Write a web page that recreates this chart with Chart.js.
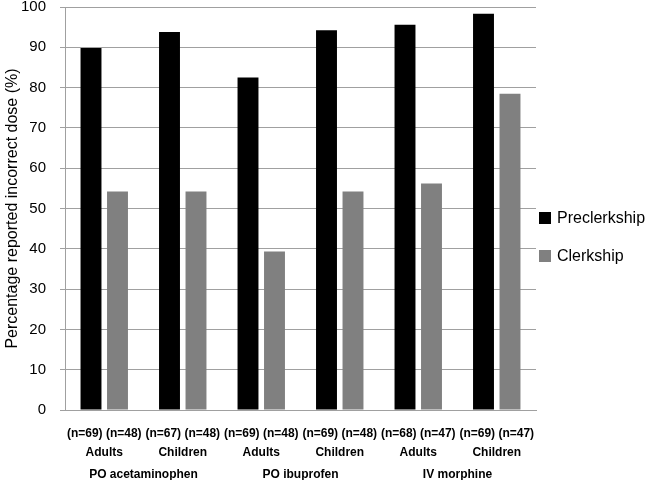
<!DOCTYPE html>
<html>
<head>
<meta charset="utf-8">
<script src="https://cdn.jsdelivr.net/npm/chart.js@4.4.1/dist/chart.umd.min.js"></script>
<style>
    html, body { margin: 0; padding: 0; background: #fff; }
    #wrap { width: 647px; height: 480px; position: relative; }
</style>
</head>
<body>
<div id="wrap"><canvas id="doseChart"></canvas></div>
<script>
// bar categories: sample sizes + population
var sampleLabels = ['(n=69) (n=48)', '(n=67) (n=48)', '(n=69) (n=48)', '(n=69) (n=48)', '(n=68) (n=47)', '(n=69) (n=47)'];
var populations = ['Adults', 'Children', 'Adults', 'Children', 'Adults', 'Children'];
var drugGroups = ['PO acetaminophen', 'PO ibuprofen', 'IV morphine'];

var preclerkship = [89.8, 93.8, 82.5, 94.2, 95.6, 98.3];
var clerkship = [54.2, 54.2, 39.3, 54.2, 56.2, 78.5];

document.addEventListener('DOMContentLoaded', function() {
    Chart.defaults.font.family = '"Liberation Sans", Arial, sans-serif';
    Chart.defaults.color = '#000';

    var labels = sampleLabels.map(function(s, i) { return [s, populations[i]]; });

    // legend drawn by hand to the right of the plot (tight box/text spacing)
    var sideLegend = {
        id: 'sideLegend',
        afterDraw: function(chart) {
            var c = chart.ctx;
            var area = chart.chartArea;
            var x = area.right + 3;
            var rows = [218, 256];
            c.save();
            c.font = '16px "Liberation Sans", Arial, sans-serif';
            c.textBaseline = 'middle';
            c.textAlign = 'left';
            chart.data.datasets.forEach(function(ds, i) {
                c.fillStyle = ds.backgroundColor;
                c.fillRect(x, rows[i] - 6, 12, 12);
                c.fillStyle = '#000';
                c.fillText(ds.label, x + 18, rows[i] + 1);
            });
            c.restore();
        }
    };

    var ctx = document.getElementById('doseChart').getContext('2d');
    var chart = new Chart(ctx, {
        type: 'bar',
        data: {
            labels: labels,
            datasets: [
                {
                    label: 'Preclerkship',
                    data: preclerkship,
                    backgroundColor: '#000000',
                    categoryPercentage: 0.675,
                    barPercentage: 0.79
                },
                {
                    label: 'Clerkship',
                    data: clerkship,
                    backgroundColor: '#808080',
                    categoryPercentage: 0.675,
                    barPercentage: 0.79
                }
            ]
        },
        plugins: [sideLegend],
        options: {
            responsive: true,
            maintainAspectRatio: false,
            animation: false,
            layout: { padding: { top: 0, right: 111, bottom: 0, left: 0 } },
            plugins: {
                legend: { display: false },
                tooltip: { enabled: false }
            },
            scales: {
                x: {
                    afterFit: function(scale) {
                        scale.height = 52;
                        scale.paddingLeft = 0;
                        scale.paddingRight = 0;
                    },
                    grid: { display: false, drawTicks: false },
                    border: { display: true, color: '#a0a0a0' },
                    ticks: {
                        maxRotation: 0,
                        autoSkip: false,
                        font: { size: 12, weight: 'bold', lineHeight: 1.583 },
                        color: '#000',
                        padding: 14
                    }
                },
                x2: {
                    type: 'category',
                    position: 'bottom',
                    labels: drugGroups,
                    offset: true,
                    afterFit: function(scale) {
                        scale.height = 18;
                        scale.paddingLeft = 0;
                        scale.paddingRight = 0;
                    },
                    grid: { display: false, drawTicks: false },
                    border: { display: false },
                    ticks: {
                        maxRotation: 0,
                        font: { size: 12, weight: 'bold', lineHeight: 1.2 },
                        color: '#000',
                        padding: 5
                    }
                },
                y: {
                    min: 0,
                    max: 100,
                    afterFit: function(scale) {
                        scale.width = 65;
                        scale.paddingTop = 7;
                    },
                    ticks: {
                        stepSize: 10,
                        font: { size: 15 },
                        color: '#000',
                        padding: 14
                    },
                    grid: { color: '#a0a0a0', tickLength: 5 },
                    border: { color: '#a0a0a0' },
                    title: {
                        display: true,
                        text: 'Percentage reported incorrect dose (%)',
                        font: { size: 16 },
                        color: '#000',
                        padding: { top: 3, bottom: 0 }
                    }
                }
            }
        }
    });
});
</script>
</body>
</html>
